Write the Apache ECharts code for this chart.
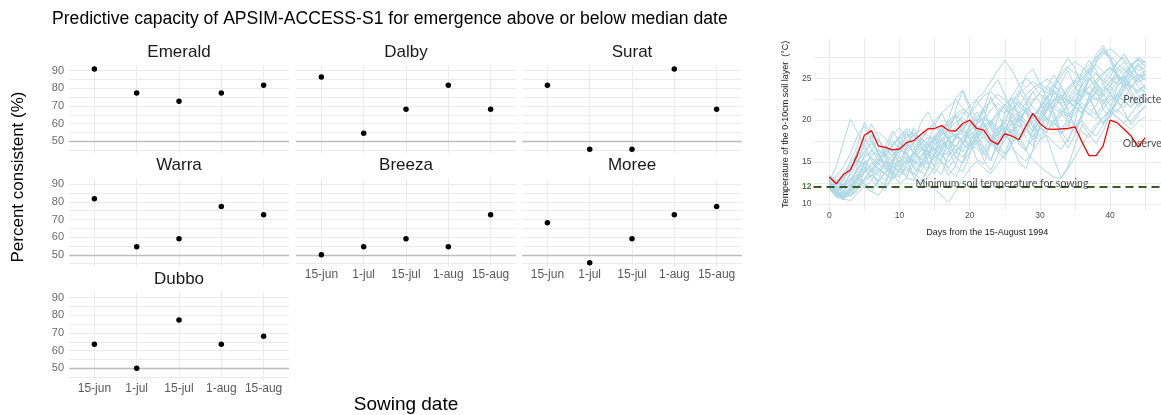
<!DOCTYPE html>
<html><head><meta charset="utf-8">
<script src="https://cdn.jsdelivr.net/npm/echarts@6/dist/echarts.min.js"></script>
<style>html,body{margin:0;padding:0;background:#fff}#c{width:1161px;height:415px}</style>
</head><body><div id="c"></div>
<script>
// ---------- Left: facet data (percent consistent) ----------
const sowingDates = ['15-jun', '1-jul', '15-jul', '1-aug', '15-aug'];
const sites = ['Emerald', 'Dalby', 'Surat', 'Warra', 'Breeza', 'Moree', 'Dubbo'];
const emerald = [90.9, 77.3, 72.7, 77.3, 81.8];
const dalby   = [86.4, 54.5, 68.2, 81.8, 68.2];
const surat   = [81.8, 45.5, 45.5, 90.9, 68.2];
const warra   = [81.8, 54.5, 59.1, 77.3, 72.7];
const breeza  = [50.0, 54.5, 59.1, 54.5, 72.7];
const moree   = [68.2, 45.5, 59.1, 72.7, 77.3];
const dubbo   = [63.6, 50.0, 77.3, 63.6, 68.2];
const yTickLabels = [50, 60, 70, 80, 90];
const yGridValues = [45, 50, 55, 60, 65, 70, 75, 80, 85, 90];

// ---------- Right: soil temperature ----------
const observed = [13.2,12.4,13.5,14.05,15.85,18.2,18.75,16.9,16.75,16.45,
  16.55,17.3,17.55,18.25,18.95,19.0,19.35,18.75,18.7,19.6,
  20.0,19.0,18.8,17.55,17.1,18.4,18.1,17.65,19.3,20.8,
  19.6,18.95,18.9,18.95,19.0,19.2,17.4,15.75,15.75,16.9,
  20.0,19.7,18.9,18.1,16.8,17.9];
const pred1 = [12.8,11.6,11.2,12.0,13.4,14.9,15.6,14.8,14.1,15.2,16.4,17.0,16.2,15.4,16.8,18.1,18.9,17.6,16.8,17.9,19.2,20.1,19.4,18.2,17.5,18.8,20.3,21.0,19.8,18.6,19.9,21.4,22.6,21.8,20.5,21.7,23.1,24.0,23.2,22.1,23.4,24.6,25.3,24.2,23.5,24.1];
const pred2 = [12.1,11.0,10.7,11.3,12.2,13.0,14.1,15.3,14.6,13.8,13.2,14.5,15.8,16.6,15.9,15.1,16.3,17.8,18.4,17.2,16.5,17.7,19.1,19.9,18.7,17.9,18.6,20.2,21.1,20.3,19.2,18.5,19.8,21.3,22.4,21.6,20.8,22.2,23.6,24.4,23.1,22.3,23.5,24.8,25.5,24.9];
const pred3 = [12.7,14.5,17.3,20.1,18.6,16.9,15.2,14.0,13.6,14.7,15.2,14.1,13.5,14.8,16.0,16.7,15.8,15.0,16.2,17.5,18.3,17.4,16.6,17.8,19.0,19.7,18.5,17.6,18.9,20.4,21.2,20.1,19.3,20.6,21.9,22.5,21.4,20.6,21.8,23.2,24.1,23.0,22.2,21.5,22.7,23.4];
const pred4 = [12.3,11.4,11.0,11.6,12.1,12.9,13.5,12.8,12.2,12.9,13.6,14.4,13.7,13.0,12.4,11.8,11.0,10.2,11.5,13.0,14.2,15.1,14.3,13.6,14.8,15.9,16.7,15.8,15.1,16.3,17.6,18.2,17.3,16.5,17.8,19.1,19.9,18.8,18.1,19.4,20.6,21.3,20.5,19.8,20.9,21.6];
const pred5 = [13.2,12.5,13.1,14.2,15.6,16.8,17.9,18.6,17.8,17.0,18.1,19.0,18.3,17.5,18.7,19.9,20.8,21.6,22.4,21.5,20.6,21.8,22.9,23.4,22.6,21.7,22.8,24.1,25.0,24.2,23.1,22.5,23.8,25.2,26.3,25.6,24.8,26.1,27.4,28.1,27.3,26.2,25.5,26.7,27.2,26.4];
const pred6 = [12.6,11.8,12.4,13.5,14.9,16.2,15.4,14.6,15.8,17.1,17.9,17.2,16.4,17.6,18.8,19.5,18.6,17.8,19.1,20.6,21.7,22.5,23.3,24.6,25.9,27.1,26.0,24.3,22.8,21.5,20.7,21.9,23.1,23.8,22.9,22.1,23.4,24.7,25.6,24.8,24.0,25.2,26.1,25.3,24.5,25.1];
const pred7 = [12.0,11.2,10.9,11.8,13.1,14.0,13.3,12.7,13.9,15.0,14.4,13.8,15.1,16.4,17.2,16.5,15.7,16.9,18.1,18.8,17.9,17.0,16.2,17.3,18.5,19.2,18.4,17.5,16.4,15.3,14.5,13.8,13.2,13.0,14.2,15.6,17.1,18.4,19.5,20.3,21.2,20.4,19.6,20.8,21.9,22.3];
const pred8 = [12.4,12.0,12.9,14.1,15.3,14.6,13.9,15.2,16.6,17.4,16.7,15.9,15.1,16.3,17.5,18.2,17.4,16.6,17.8,19.1,19.8,19.0,18.2,19.5,20.8,21.6,20.7,19.9,21.1,22.4,23.1,22.2,21.4,22.6,23.9,24.7,23.8,23.0,24.3,25.5,26.2,25.4,24.6,23.9,24.8,25.6];
const pred9 = [11.8,11.1,11.5,12.3,13.0,12.4,11.8,12.6,13.8,14.5,13.9,13.3,14.6,15.8,16.4,15.7,15.0,14.3,15.5,16.7,17.3,16.6,15.9,17.1,18.4,19.0,18.3,17.6,18.8,19.9,20.5,19.8,19.1,18.4,19.6,20.9,21.6,20.8,20.1,21.3,22.4,23.0,22.3,21.6,22.7,23.1];
const pred10 = [13.0,12.7,13.6,14.8,16.1,17.3,18.2,17.5,16.6,15.8,16.9,18.0,18.6,17.9,17.1,16.4,17.6,18.9,19.7,20.3,19.5,18.7,19.9,21.2,22.0,21.3,20.5,21.7,23.0,23.8,24.4,23.7,22.8,22.0,23.3,24.5,25.4,26.2,25.5,24.6,25.8,26.9,27.5,26.7,25.9,26.3];
const pred11 = [12.2,11.5,11.9,12.8,14.2,15.5,16.4,15.7,14.9,14.2,15.3,16.5,17.3,16.6,15.8,17.0,18.2,18.9,18.1,17.4,18.6,19.7,20.4,19.6,18.9,20.1,21.3,22.1,21.4,20.6,19.9,21.1,22.3,23.0,22.2,21.5,22.8,24.0,24.8,25.6,26.3,25.5,24.7,25.8,26.6,25.9];
const pred12 = [12.7,12.1,11.6,12.2,13.0,13.7,14.6,15.8,16.9,16.2,15.5,14.8,16.0,17.2,17.9,17.2,16.4,15.7,16.9,18.0,18.7,19.5,20.2,19.4,18.6,17.9,19.1,20.3,21.0,20.2,21.4,22.6,23.4,22.6,21.9,23.0,24.2,25.0,24.3,23.5,24.6,25.7,26.4,25.6,24.9,25.4];
const pred13 = [11.9,11.0,10.6,11.1,11.9,12.6,13.4,14.3,13.6,13.0,14.2,15.4,16.1,15.4,14.7,15.9,17.0,17.6,16.9,16.2,17.4,18.5,17.8,17.1,16.4,17.6,18.8,19.4,18.7,18.0,19.2,20.3,19.6,18.9,20.1,21.3,22.0,21.3,20.6,21.8,22.9,22.2,21.5,22.7,23.6,24.2];
const pred14 = [12.5,12.3,13.2,14.5,15.2,14.4,13.7,14.9,16.1,17.0,17.8,18.5,17.7,16.9,16.2,17.4,18.6,19.5,20.3,21.0,20.2,19.4,18.6,19.8,21.0,21.8,22.5,21.7,20.9,22.1,23.3,24.1,23.3,22.5,23.7,24.8,25.7,26.6,27.5,28.3,27.6,26.8,26.0,25.3,26.4,27.0];
const pred15 = [12.0,11.7,12.3,13.1,12.5,12.0,12.8,14.0,15.1,14.5,13.8,15.0,16.2,16.8,16.1,15.4,16.6,17.7,18.3,17.6,16.9,18.1,19.3,19.9,19.2,18.5,19.7,20.8,21.4,20.7,20.0,21.2,22.4,23.0,22.3,21.6,20.9,22.1,23.3,24.0,23.3,22.6,23.8,24.9,25.4,24.8];
const pred16 = [13.4,12.8,12.2,12.9,14.0,15.1,14.3,13.6,14.7,15.9,16.6,15.9,15.2,14.6,15.8,17.0,17.7,17.0,16.3,15.6,16.8,18.0,18.6,17.9,17.2,18.4,19.6,20.2,19.5,18.8,20.0,21.1,21.8,21.1,20.4,21.6,22.7,23.3,22.6,21.9,23.0,24.1,24.7,24.0,23.3,23.8];
const pred17 = [12.3,11.4,11.1,11.9,13.2,14.6,15.7,16.5,15.8,15.1,16.3,17.4,18.1,18.9,18.2,17.5,18.7,19.8,20.6,19.9,19.2,20.4,21.5,22.2,21.5,20.8,22.0,23.1,23.9,24.6,23.9,23.2,24.4,25.6,26.4,27.0,26.3,25.6,26.8,27.9,28.5,27.8,27.1,26.5,27.3,26.8];
const pred18 = [12.6,11.9,11.4,11.0,11.8,12.9,14.0,13.4,12.8,13.9,15.0,15.6,15.0,14.4,15.5,16.6,17.2,16.6,16.0,17.1,18.2,18.8,18.2,17.6,18.7,19.8,20.4,19.8,19.2,20.3,21.4,22.0,21.4,20.8,21.9,23.0,23.6,23.0,22.4,23.5,24.6,25.2,24.6,24.0,25.1,25.6];
const pred19 = [12.1,11.3,10.8,11.4,12.5,13.8,14.9,14.2,13.5,12.9,14.1,15.3,14.6,13.9,13.2,14.4,15.6,16.3,15.6,14.9,16.1,17.3,18.0,17.3,16.6,15.9,17.1,18.3,19.0,18.3,17.6,18.8,20.0,20.7,20.0,19.3,18.6,17.9,19.1,20.3,21.0,20.3,19.6,18.9,19.8,20.4];
const pred20 = [12.9,12.4,13.0,13.9,15.1,16.3,17.2,16.4,15.6,16.8,18.0,18.8,18.1,17.3,16.6,17.8,19.0,19.9,20.7,21.3,20.6,19.8,21.0,22.3,23.1,22.4,21.6,20.9,22.1,23.4,24.2,24.9,24.2,23.4,22.7,23.9,25.1,25.9,26.6,25.8,25.0,24.3,25.5,26.6,27.1,26.5];
const pred21 = [12.4,11.9,12.8,15.1,16.9,19.7,18.2,16.0,14.3,13.5,14.8,16.9,18.4,17.1,15.2,14.6,16.8,19.2,20.5,18.3,16.9,17.5,20.1,22.8,21.0,18.6,17.2,18.9,21.6,23.4,22.1,20.0,21.8,24.5,25.9,24.0,22.6,24.8,27.0,28.6,27.2,25.1,23.9,25.6,26.8,25.2];
const pred22 = [13.1,12.0,11.3,10.9,11.6,13.9,16.2,17.8,16.1,13.7,12.4,13.1,15.6,17.9,16.4,14.2,13.5,15.9,18.1,19.4,17.6,15.3,14.8,17.2,20.4,21.9,19.7,17.1,16.3,18.8,21.5,22.9,20.6,18.4,19.1,21.7,24.3,23.1,20.8,19.6,21.4,23.9,25.2,23.5,22.0,22.9];
const pred23 = [12.0,10.8,10.5,11.9,14.6,17.4,19.5,18.0,15.4,13.2,14.0,16.7,19.1,17.3,14.9,13.6,15.2,18.0,21.3,23.5,21.2,18.4,16.0,15.1,17.6,20.9,22.7,20.3,17.8,16.9,19.4,22.1,21.0,18.7,17.4,19.8,23.0,25.1,23.6,21.3,20.2,22.5,24.9,26.7,25.0,23.8];
const pred24 = [12.8,11.5,11.0,11.4,12.9,15.0,14.1,12.2,11.6,13.4,16.0,18.5,17.0,14.8,13.9,16.1,18.7,17.5,15.6,14.8,17.0,19.6,21.3,19.2,17.1,16.0,18.2,20.7,19.3,17.6,18.9,21.2,23.6,22.0,19.8,18.5,20.3,22.8,24.6,23.2,21.7,20.9,22.4,24.1,23.0,22.1];
const pred25 = [12.3,11.2,10.6,10.4,11.2,12.1,11.5,11.0,12.3,14.5,16.8,15.4,13.2,12.5,14.1,16.3,15.0,13.4,14.6,17.2,19.0,17.5,15.2,14.0,15.8,18.3,17.1,15.0,14.2,16.5,19.2,18.0,15.4,13.1,14.4,17.0,19.5,18.3,17.2,18.6,20.8,22.3,21.0,19.4,20.6,21.8];
const pred26 = [12.9,13.3,14.4,16.0,18.1,19.3,17.6,15.8,16.9,18.7,17.4,15.9,17.3,19.6,21.0,19.5,18.1,20.2,22.6,23.6,21.8,19.9,21.4,23.7,24.8,23.0,21.1,22.9,25.3,26.1,24.4,22.5,23.8,26.0,27.4,26.2,24.1,25.5,27.8,28.9,27.6,25.4,24.6,26.3,27.5,26.9];
const pred27 = [11.7,10.9,11.3,12.6,13.5,12.3,11.4,12.9,15.2,16.4,14.7,13.1,12.8,14.5,16.7,18.0,16.3,14.1,13.2,15.0,17.4,18.6,16.8,15.3,16.9,19.1,20.0,18.2,16.6,17.8,20.3,21.7,20.1,18.0,16.7,18.2,21.0,22.6,21.1,19.5,20.7,23.1,24.4,22.9,21.6,22.4];
const pred28 = [12.5,11.6,12.0,13.8,16.4,17.9,16.5,15.1,16.3,18.2,19.1,17.6,16.0,15.3,17.1,19.4,20.8,19.2,17.7,18.6,20.9,22.4,21.1,19.3,18.1,19.7,22.0,23.5,22.2,20.4,21.6,23.9,25.4,24.1,22.3,23.5,25.8,27.1,26.0,24.3,25.1,26.8,27.9,26.6,25.3,25.9];
const pred29 = [12.2,11.1,10.8,11.7,12.8,14.3,13.0,11.9,12.7,14.9,17.2,18.6,16.9,15.0,14.2,15.8,17.9,16.4,14.6,13.8,15.9,18.4,19.7,18.1,16.2,15.4,17.6,19.9,21.2,19.6,18.0,19.3,21.8,22.7,21.0,19.2,20.5,22.9,24.0,22.4,20.9,22.0,24.2,25.3,24.0,23.2];
const pred30 = [13.3,12.6,12.1,12.7,13.9,15.8,17.6,16.2,14.4,15.3,17.5,16.1,14.3,13.7,15.4,17.8,19.3,18.0,16.4,17.1,19.5,21.0,19.6,17.5,16.8,18.6,20.9,22.3,21.0,19.1,20.4,22.8,24.2,23.0,21.3,22.1,24.5,25.8,24.4,22.8,23.9,26.1,27.0,25.7,24.5,25.0];
const predicted = [pred1,pred2,pred3,pred4,pred5,pred6,pred7,pred8,pred9,pred10,
  pred11,pred12,pred13,pred14,pred15,pred16,pred17,pred18,pred19,pred20,
  pred21,pred22,pred23,pred24,pred25,pred26,pred27,pred28,pred29,pred30];
const minSowingTemp = 12;
const rightXLabels = [0, 10, 20, 30, 40];
const rightXGrid = [0, 5, 10, 15, 20, 25, 30, 35, 40, 45];
const rightYLabels = [10, 12, 15, 20, 25];
const rightYGrid = [10, 12.5, 15, 17.5, 20, 22.5, 25, 27.5];

// ---------- Build option ----------
const FONT = '"Liberation Sans", Arial, Helvetica, sans-serif';
const GRIDC = '#ebebeb';
const colLeft = [69, 296, 522], rowTop = [65, 178.5, 292];
const PW = 220, PH = 88.3;
const facetPos = [[0,0],[0,1],[0,2],[1,0],[1,1],[1,2],[2,0]];
const showXLab = [false,false,false,false,true,true,true];
const siteValues = [emerald, dalby, surat, warra, breeza, moree, dubbo];

const grid = [], xAxis = [], yAxis = [], series = [], title = [];
title.push({text: 'Predictive capacity of APSIM-ACCESS-S1 for emergence above or below median date',
  left: 52, top: 10.5, padding: 0,
  textStyle: {fontFamily: FONT, fontSize: 17.6, fontWeight: 'normal', color: '#000'}});

facetPos.forEach(([r, c], i) => {
  grid.push({left: colLeft[c], top: rowTop[r], width: PW, height: PH, outerBoundsMode: 'none'});
  title.push({text: sites[i], left: colLeft[c] + PW / 2, top: rowTop[r] - 21.5, textAlign: 'center', padding: 0,
    textStyle: {fontFamily: FONT, fontSize: 17, fontWeight: 'normal', color: '#1a1a1a'}});
  xAxis.push({type: 'value', gridIndex: i, min: 0.4, max: 5.6,
    axisLine: {show: false},
    axisTick: {show: false, customValues: [1, 2, 3, 4, 5]},
    axisLabel: {show: showXLab[i], customValues: [1, 2, 3, 4, 5], margin: 2,
      formatter: v => sowingDates[Math.round(v) - 1],
      fontFamily: FONT, fontSize: 12, color: '#5a5a5a'},
    splitLine: {show: true, lineStyle: {color: GRIDC, width: 1}}});
  yAxis.push({type: 'value', gridIndex: i, min: 43.2, max: 93.2,
    axisLine: {show: false},
    axisTick: {show: false, customValues: yGridValues},
    axisLabel: {show: c === 0, customValues: yTickLabels, margin: 5,
      fontFamily: FONT, fontSize: 11, color: '#6a6a6a'},
    splitLine: {show: true, lineStyle: {color: GRIDC, width: 1}}});
  series.push({type: 'scatter', xAxisIndex: i, yAxisIndex: i,
    data: siteValues[i].map((v, k) => [k + 1, v]),
    symbolSize: 5.5, itemStyle: {color: '#000', opacity: 1}, silent: true, z: 3,
    markLine: {silent: true, symbol: 'none', animation: false, z: 1,
      lineStyle: {color: '#bdbdbd', width: 1.4, type: 'solid'}, label: {show: false},
      data: [{yAxis: 50}]}});
});

// right panel
const R = facetPos.length;
grid.push({left: 813.5, top: 38, width: 347.5, height: 172.6, outerBoundsMode: 'none'});
xAxis.push({type: 'value', gridIndex: R, min: -2.25, max: 47.25,
  name: 'Days from the 15-August 1994', nameLocation: 'middle', nameGap: 17,
  nameTextStyle: {fontFamily: FONT, fontSize: 9, color: '#1a1a1a'},
  axisLine: {show: false},
  axisTick: {show: false, customValues: rightXGrid},
  axisLabel: {customValues: rightXLabels, margin: 1, fontFamily: FONT, fontSize: 8.5, color: '#4d4d4d'},
  splitLine: {show: true, lineStyle: {color: GRIDC, width: 1}}});
yAxis.push({type: 'value', gridIndex: R, min: 9.2, max: 29.8,
  name: 'Temperature of the 0-10cm soil layer  (\u00B0C)', nameLocation: 'middle', nameGap: 23, nameRotate: 90,
  nameTextStyle: {fontFamily: FONT, fontSize: 9, color: '#1a1a1a'},
  axisLine: {show: false},
  axisTick: {show: false, customValues: rightYGrid},
  axisLabel: {customValues: rightYLabels, margin: 2, fontFamily: FONT, fontSize: 8.5, color: '#4d4d4d',
    formatter: v => (v === 12 ? '{g|12}' : String(v)),
    rich: {g: {color: '#4a7a2e', fontFamily: FONT, fontSize: 8.5, fontWeight: 'bold'}}},
  splitLine: {show: true, lineStyle: {color: GRIDC, width: 1}}});

predicted.forEach((p) => {
  series.push({type: 'line', xAxisIndex: R, yAxisIndex: R, showSymbol: false, silent: true,
    data: p.map((v, d) => [d, v]), lineStyle: {color: '#add8e6', width: 1}, z: 2, animation: false});
});
series.push({type: 'line', xAxisIndex: R, yAxisIndex: R, data: [], silent: true, z: 3,
  markLine: {silent: true, symbol: 'none', animation: false,
    lineStyle: {color: '#3a5a26', width: 1.8, type: [8, 5]}, label: {show: false},
    data: [{yAxis: minSowingTemp}]}});
series.push({type: 'line', xAxisIndex: R, yAxisIndex: R, showSymbol: false, silent: true,
  data: observed.map((v, d) => [d, v]), lineStyle: {color: '#ff0000', width: 1.3}, z: 4, animation: false});
const annFont = 'Lato, "Open Sans", sans-serif';
series.push({type: 'scatter', xAxisIndex: R, yAxisIndex: R, symbolSize: 0, silent: true, z: 5,
  data: [
    {value: [24.6, 12.45], label: {formatter: 'Minimum soil temperature for sowing'}},
    {value: [45, 22.4], label: {formatter: 'Predicted'}},
    {value: [45, 17.15], label: {formatter: 'Observed'}}],
  label: {show: true, position: 'inside', fontFamily: annFont, fontSize: 10.5, color: '#222'}});

const option = {
  animation: false,
  backgroundColor: '#fff',
  title, grid, xAxis, yAxis, series,
  graphic: [
    {type: 'text', x: 18, y: 177, rotation: Math.PI / 2,
      style: {text: 'Percent consistent (%)', textAlign: 'center', textVerticalAlign: 'middle',
        font: '17px ' + FONT, fill: '#000'}},
    {type: 'text', x: 406, y: 405,
      style: {text: 'Sowing date', textAlign: 'center', textVerticalAlign: 'middle',
        font: '19px ' + FONT, fill: '#000'}}
  ]
};
const chart = echarts.init(document.getElementById('c'));
chart.setOption(option);
</script>
</body></html>
